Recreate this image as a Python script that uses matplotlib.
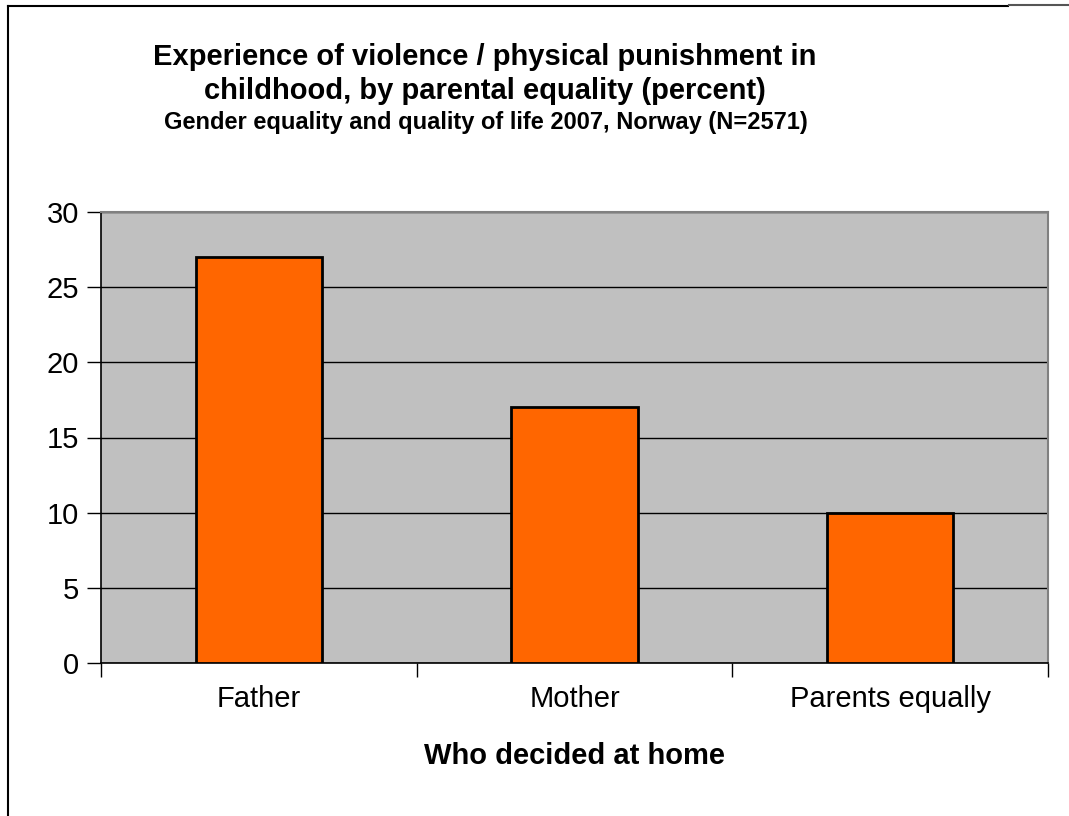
import matplotlib
matplotlib.use("Agg")
import matplotlib.pyplot as plt
from matplotlib.lines import Line2D

categories = ["Father", "Mother", "Parents equally"]
values = [27, 17, 10]
yticks = [0, 5, 10, 15, 20, 25, 30]

plt.rcParams['font.family'] = ['Liberation Sans', 'DejaVu Sans']

W, H = 1069, 816
fig = plt.figure(figsize=(W / 100, H / 100), dpi=100)
ax = fig.add_axes([101 / W, 1 - 663 / H, (1048 - 101) / W, (663 - 212) / H])
ax.set_facecolor('#C0C0C0')

x = list(range(len(categories)))
ax.bar(x, values, width=0.4, color='#FF6600', edgecolor='black', linewidth=2, zorder=3)
ax.set_xlim(-0.5, len(categories) - 0.5)
ax.set_ylim(0, 30)
ax.set_yticks(yticks)
ax.set_yticklabels([str(t) for t in yticks], fontsize=21)
ax.yaxis.grid(True, color='black', linewidth=1, zorder=1)
ax.set_axisbelow(True)

ax.set_xticks(x)
ax.set_xticklabels(categories, fontsize=21)
ax.tick_params(axis='x', length=0, pad=16)
ax.set_xticks([i - 0.5 for i in range(len(categories) + 1)], minor=True)
ax.tick_params(axis='x', which='minor', length=10, width=1, color='black', direction='out')
ax.tick_params(axis='y', length=10, width=1, direction='out', pad=6)

for s in ['top', 'right']:
    ax.spines[s].set_color('#808080')
    ax.spines[s].set_linewidth(1.5)
for s in ['left', 'bottom']:
    ax.spines[s].set_color('black')
    ax.spines[s].set_linewidth(1.2)

ax.set_xlabel("Who decided at home", fontsize=21, fontweight='bold', labelpad=21)

fig.text(485 / W, 1 - 57 / H, "Experience of violence / physical punishment in",
         ha='center', va='center', fontsize=21, fontweight='bold')
fig.text(485 / W, 1 - 91 / H, "childhood, by parental equality (percent)",
         ha='center', va='center', fontsize=21, fontweight='bold')
fig.text(486 / W, 1 - 123 / H, "Gender equality and quality of life 2007, Norway (N=2571)",
         ha='center', va='center', fontsize=17, fontweight='bold')

# outer frame (partially visible)
fig.add_artist(Line2D([8 / W, 8 / W], [0, 1 - 6 / H], color='black', linewidth=1.5))
fig.add_artist(Line2D([8 / W, 1008 / W], [1 - 6 / H, 1 - 6 / H], color='black', linewidth=1.5))
fig.add_artist(Line2D([1009 / W, 1], [1 - 5 / H, 1 - 5 / H], color='#555555', linewidth=1.5))

fig.savefig("out.png", dpi=100)
